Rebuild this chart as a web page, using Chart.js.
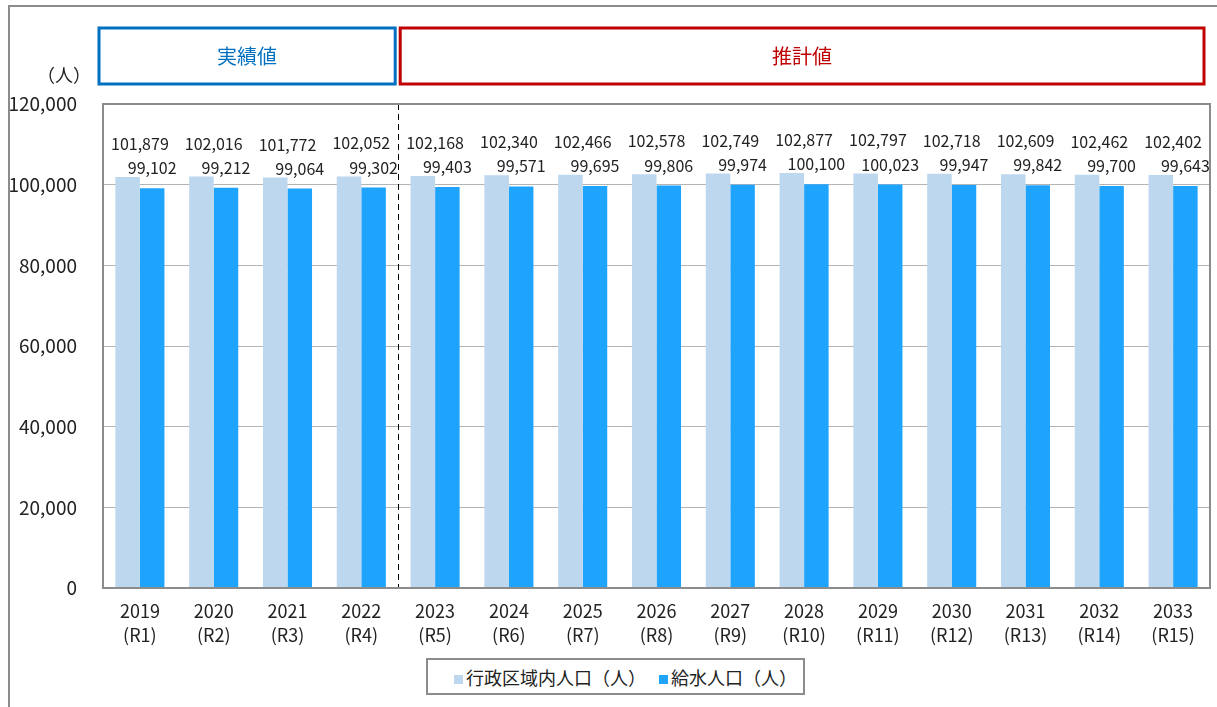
<!DOCTYPE html>
<html lang="ja">
<head>
<meta charset="utf-8">
<script src="https://cdn.jsdelivr.net/npm/chart.js@4.4.1/dist/chart.umd.min.js"></script>
<style>
  body { margin: 0; background: #fff; }
  .frame { position: absolute; left: 8px; top: 5px; width: 1300px; height: 800px; border: 2px solid #8c8c8c; }
  .wrap { position: absolute; left: 0; top: 0; width: 1217px; height: 707px; }
  .legend {
    position: absolute; left: 426px; top: 658px; width: 349px; height: 33px;
    border: 2px solid #8c8c8c; background: #fff; padding-left: 26px;
    font-family: 'Noto Sans CJK JP', sans-serif; font-size: 18px; color: #222;
    display: flex; align-items: center; gap: 13px; white-space: nowrap;
  }
  .legend > span { flex-shrink: 0; }
  .legend span.sw { display: inline-block; width: 9px; height: 9px; margin-right: 3px; vertical-align: middle; }
</style>
</head>
<body>
<div class="frame"></div>
<div class="wrap"><canvas id="chart" width="1217" height="707"></canvas></div>
<div class="legend" id="legend"></div>
<script>
const years = ['2019', '2020', '2021', '2022', '2023', '2024', '2025', '2026', '2027', '2028', '2029', '2030', '2031', '2032', '2033'];
const reiwa = ['(R1)', '(R2)', '(R3)', '(R4)', '(R5)', '(R6)', '(R7)', '(R8)', '(R9)', '(R10)', '(R11)', '(R12)', '(R13)', '(R14)', '(R15)'];
const adminPop = [101879, 102016, 101772, 102052, 102168, 102340, 102466, 102578, 102749, 102877, 102797, 102718, 102609, 102462, 102402];
const servedPop = [99102, 99212, 99064, 99302, 99403, 99571, 99695, 99806, 99974, 100100, 100023, 99947, 99842, 99700, 99643];
const seriesNames = ['行政区域内人口（人）', '給水人口（人）'];
const seriesColors = ['#bdd7ee', '#1fa4fe'];
const actualCount = 4; // 2019-2022 are actual values
const yTicks = [0, 20000, 40000, 60000, 80000, 100000, 120000];

const numFont = "'Liberation Sans Narrow', 'Arial Narrow', 'Noto Sans CJK JP', sans-serif";
const jpFont = "'Noto Sans CJK JP', sans-serif";

const fmt = v => v.toLocaleString('en-US');

// annotation boxes, dashed divider, unit label, value labels
const overlay = {
    id: 'overlay',
    afterDatasetsDraw(chart) {
        const { ctx, chartArea, scales } = chart;
        const x = scales.x;
        const divX = (x.getPixelForValue(actualCount - 1) + x.getPixelForValue(actualCount)) / 2;
        ctx.save();

        // dashed divider
        ctx.strokeStyle = '#000';
        ctx.lineWidth = 1;
        ctx.setLineDash([6, 4]);
        ctx.beginPath();
        ctx.moveTo(Math.round(divX) + 0.5, chartArea.top);
        ctx.lineTo(Math.round(divX) + 0.5, chartArea.bottom);
        ctx.stroke();
        ctx.setLineDash([]);

        // boxes
        const boxTop = chartArea.top - 76, boxH = 56;
        const boxes = [
            { l: chartArea.left - 4, r: divX - 3, color: '#0070c0', text: '実績値' },
            { l: divX + 2, r: chartArea.right - 6, color: '#c00000', text: '推計値' }
        ];
        ctx.lineWidth = 3;
        ctx.font = '20px ' + jpFont;
        ctx.textAlign = 'center';
        ctx.textBaseline = 'middle';
        boxes.forEach(b => {
            ctx.strokeStyle = b.color;
            ctx.strokeRect(b.l, boxTop, b.r - b.l, boxH);
            ctx.fillStyle = b.color;
            ctx.fillText(b.text, (b.l + b.r) / 2, boxTop + boxH / 2);
        });

        // unit
        ctx.fillStyle = '#222';
        ctx.font = '18px ' + jpFont;
        ctx.fillText('（人）', 64, chartArea.top - 29);

        // value labels
        ctx.font = '16px ' + numFont;
        ctx.textBaseline = 'middle';
        const m0 = chart.getDatasetMeta(0), m1 = chart.getDatasetMeta(1);
        m0.data.forEach((bar, i) => {
            ctx.fillText(fmt(adminPop[i]), x.getPixelForValue(i), bar.y - 33);
        });
        m1.data.forEach((bar, i) => {
            ctx.fillText(fmt(servedPop[i]), bar.x, bar.y - 20);
        });
        ctx.restore();
    }
};

// plot area border
const plotBorder = {
    id: 'plotBorder',
    afterDraw(chart) {
        const { ctx, chartArea: a } = chart;
        ctx.save();
        ctx.strokeStyle = '#8c8c8c';
        ctx.lineWidth = 2;
        ctx.strokeRect(a.left, a.top, a.right - a.left, a.bottom - a.top);
        ctx.restore();
    }
};

const ctx = document.getElementById('chart').getContext('2d');
new Chart(ctx, {
    type: 'bar',
    data: {
        labels: years.map((y, i) => [y, reiwa[i]]),
        datasets: [
            { label: seriesNames[0], data: adminPop, backgroundColor: seriesColors[0] },
            { label: seriesNames[1], data: servedPop, backgroundColor: seriesColors[1] }
        ]
    },
    options: {
        responsive: false,
        animation: false,
        devicePixelRatio: 1,
        layout: { padding: { top: 104, right: 7, left: 0, bottom: 0 } },
        datasets: { bar: { barPercentage: 1.0, categoryPercentage: 0.665 } },
        plugins: { legend: { display: false }, tooltip: { enabled: false } },
        scales: {
            x: {
                grid: { display: false },
                border: { display: false },
                ticks: { color: '#222', font: { family: numFont, size: 18, lineHeight: 1.35 }, padding: 3, maxRotation: 0, autoSkip: false },
                afterFit: s => { s.height = 119; }
            },
            y: {
                min: 0, max: 120000,
                afterBuildTicks: s => { s.ticks = yTicks.map(v => ({ value: v })); },
                grid: { color: '#b4b4b4', lineWidth: 1, drawTicks: false },
                border: { display: false },
                ticks: { color: '#222', font: { family: numFont, size: 19 }, padding: 26, callback: v => fmt(v) },
                afterFit: s => { s.width = 103; }
            }
        }
    },
    plugins: [overlay, plotBorder]
});

document.getElementById('legend').innerHTML = seriesNames.map((n, i) =>
    `<span><span class="sw" style="background:${seriesColors[i]}"></span>${n}</span>`).join('');
</script>
</body>
</html>
